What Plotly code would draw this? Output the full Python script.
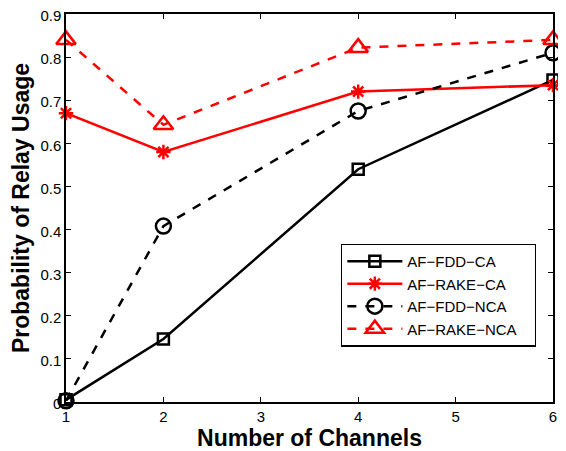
import plotly.graph_objects as go

channels = [1, 2, 4, 6]
fdd_ca = [0.005, 0.146, 0.540, 0.747]
rake_ca = [0.670, 0.580, 0.720, 0.735]
fdd_nca = [0.003, 0.408, 0.675, 0.810]
rake_nca = [0.840, 0.643, 0.822, 0.840]
y_ticks = [0, 0.1, 0.2, 0.3, 0.4, 0.5, 0.6, 0.7, 0.8, 0.9]
y_labels = ["0", "0.1", "0.2", "0.3", "0.4", "0.5", "0.6", "0.7", "0.8", "0.9"]
x_ticks = [1, 2, 3, 4, 5, 6]

series = [
    ("AF\u2212FDD\u2212CA", fdd_ca, "black", "solid", "square-open", 11),
    ("AF\u2212RAKE\u2212CA", rake_ca, "red", "solid", "asterisk-open", 12),
    ("AF\u2212FDD\u2212NCA", fdd_nca, "black", "dash", "circle-open", 15),
    ("AF\u2212RAKE\u2212NCA", rake_nca, "red", "dash", "triangle-up-open", 17),
]

pad = "\u00a0" * 3

fig = go.Figure()
for name, vals, col, dash, sym, size in series:
    fig.add_trace(go.Scatter(
        x=channels, y=vals, name=name + pad, mode="lines+markers",
        line=dict(color=col, width=2.5, dash=dash),
        marker=dict(symbol=sym, size=size, color=col, line=dict(color=col, width=2.5)),
        cliponaxis=False,
    ))

axis_common = dict(
    showline=True, linecolor="black", linewidth=1.5, mirror="ticks",
    ticks="inside", ticklen=5, tickcolor="black", tickwidth=1,
    showgrid=False, zeroline=False, automargin=False, ticklabeloverflow="allow",
    tickfont=dict(family="Liberation Sans, Arial", size=15, color="black"),
)

# page body has an 8px default margin; figure sized to fit the 566x451 window
fig.update_layout(
    width=558, height=443,
    margin=dict(l=58, r=13, t=6, b=49),
    paper_bgcolor="white", plot_bgcolor="white",
    xaxis=dict(range=[1, 6], tickvals=x_ticks,
               title=dict(text="<b>Number of Channels</b>", standoff=2,
                          font=dict(family="Liberation Sans, Arial", size=23, color="black")),
               **axis_common),
    yaxis=dict(range=[0, 0.9], tickvals=y_ticks, ticktext=y_labels, ticklabelshift=2,
               title=dict(text="<b>Probability of Relay Usage</b>", standoff=4,
                          font=dict(family="Liberation Sans, Arial", size=23, color="black")),
               **axis_common),
    legend=dict(x=0.565, y=0.408, xanchor="left", yanchor="top",
                bordercolor="black", borderwidth=1.2, bgcolor="white",
                font=dict(family="Liberation Sans, Arial", size=15, color="black"),
                tracegroupgap=0, itemwidth=55),
    showlegend=True,
)

fig.write_html("out.html")
